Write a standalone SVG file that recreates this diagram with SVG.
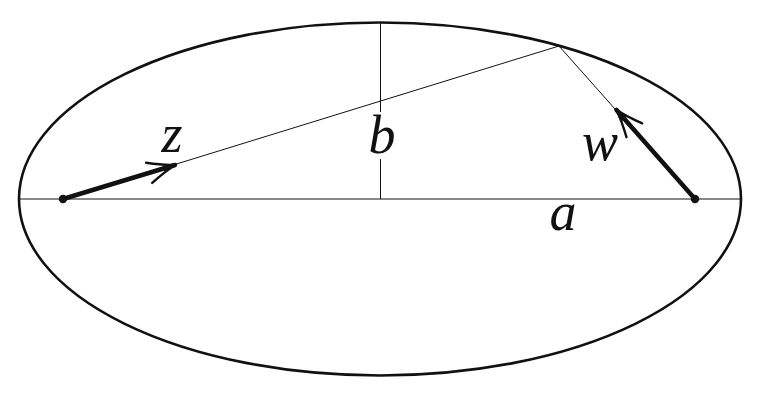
<svg xmlns="http://www.w3.org/2000/svg" width="764" height="400" viewBox="0 0 764 400">
<style>
.thin{stroke:#111;stroke-width:1;fill:none}
.thick{stroke:#111;stroke-width:4.5;fill:none;stroke-linecap:round}
.lbl{font-family:"Liberation Serif",serif;font-style:italic;font-size:54px;fill:#111;text-anchor:middle}
</style>
<defs>
<marker id="ah" markerUnits="userSpaceOnUse" viewBox="-30 -15 34 30" refX="0" refY="0" markerWidth="34" markerHeight="30" orient="auto" overflow="visible">
<path d="M-27,-10.5 Q-10,-2.5 1,0 Q-10,2.5 -27,10.5" stroke="#111" stroke-width="2.4" fill="none" stroke-linecap="round" stroke-linejoin="round"/>
<path d="M-12,-3.2 L1,0 L-12,3.2 Z" fill="#111"/>
</marker>
</defs>
<g id="ellipse">
<ellipse cx="380" cy="199" rx="361" ry="176.5" stroke="#111" stroke-width="2.6" fill="none"/>
</g>
<g id="connectors">
<line class="thin" x1="19" y1="199" x2="741" y2="199"/>
<line class="thin" x1="380.5" y1="22.5" x2="380.5" y2="112"/>
<line class="thin" x1="380.5" y1="159" x2="380.5" y2="199"/>
<line class="thin" x1="63" y1="199" x2="559" y2="46"/>
<line class="thin" x1="559" y1="46" x2="695" y2="199"/>
<line class="thick" x1="63" y1="199" x2="175" y2="165" marker-end="url(#ah)"/>
<line class="thick" x1="695" y1="199" x2="616.5" y2="110" marker-end="url(#ah)"/>
</g>
<g id="foci">
<circle cx="63" cy="199" r="4.2" fill="#111"/>
<circle cx="695" cy="199" r="4.2" fill="#111"/>
</g>
<g id="labels">
<text class="lbl" x="172" y="152">z</text>
<text class="lbl" x="382" y="153">b</text>
<text class="lbl" x="563" y="230">a</text>
<text class="lbl" x="600" y="160">w</text>
</g>
</svg>
